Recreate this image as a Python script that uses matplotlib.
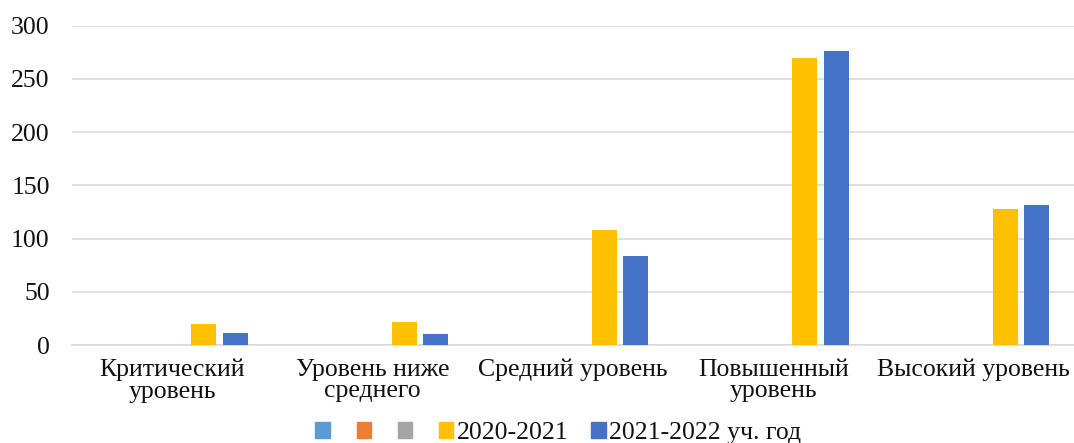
import numpy as np
import matplotlib.pyplot as plt
from matplotlib.patches import Patch

categories = ["Критический\nуровень", "Уровень ниже\nсреднего", "Средний уровень",
              "Повышенный\nуровень", "Высокий уровень"]
series_names = ["", "", "", "2020-2021", "2021-2022 уч. год"]
series_colors = ["#5B9BD5", "#ED7D31", "#A5A5A5", "#FFC000", "#4472C4"]
s1 = [0, 0, 0, 0, 0]
s2 = [0, 0, 0, 0, 0]
s3 = [0, 0, 0, 0, 0]
y2020 = [20, 22, 108, 270, 128]
y2021 = [11, 10, 84, 276, 132]
values = [s1, s2, s3, y2020, y2021]

plt.rcParams['font.family'] = ['Liberation Serif', 'DejaVu Serif']
fs = 18.5

fig = plt.figure(figsize=(10.74, 4.43), dpi=100)
ax = fig.add_axes([0.067, 0.221, 0.933, 0.721])

x = np.arange(len(categories))
step = 0.157
width = 0.125
for i, (vals, col) in enumerate(zip(values, series_colors)):
    ax.bar(x + (i - 2) * step, vals, width, color=col, zorder=3)

ax.set_xlim(-0.5, len(categories) - 0.5)
ax.set_ylim(0, 300)
ax.set_yticks(range(0, 301, 50))
ax.yaxis.grid(True, color="#D9D9D9", linewidth=1.2, zorder=0)
ax.set_xticks(x)
ax.set_xticklabels(categories, fontsize=fs, linespacing=0.95, color="#111111")
ax.tick_params(axis='y', labelsize=fs, length=0, pad=16, labelcolor="#111111")
ax.tick_params(axis='x', length=0, pad=10)
for sp in ["top", "right", "left"]:
    ax.spines[sp].set_visible(False)
ax.spines["bottom"].set_color("#D9D9D9")
ax.spines["bottom"].set_linewidth(1.2)

handles = [Patch(color=c) for c in series_colors]
leg = fig.legend(handles, series_names, loc="center", bbox_to_anchor=(0.52, 0.022),
                 ncol=5, frameon=False, fontsize=fs, handlelength=0.55, handleheight=0.55,
                 handletextpad=0.15, columnspacing=0.9)
for t in leg.get_texts():
    t.set_color("#111111")

fig.savefig("out.png", dpi=100)
